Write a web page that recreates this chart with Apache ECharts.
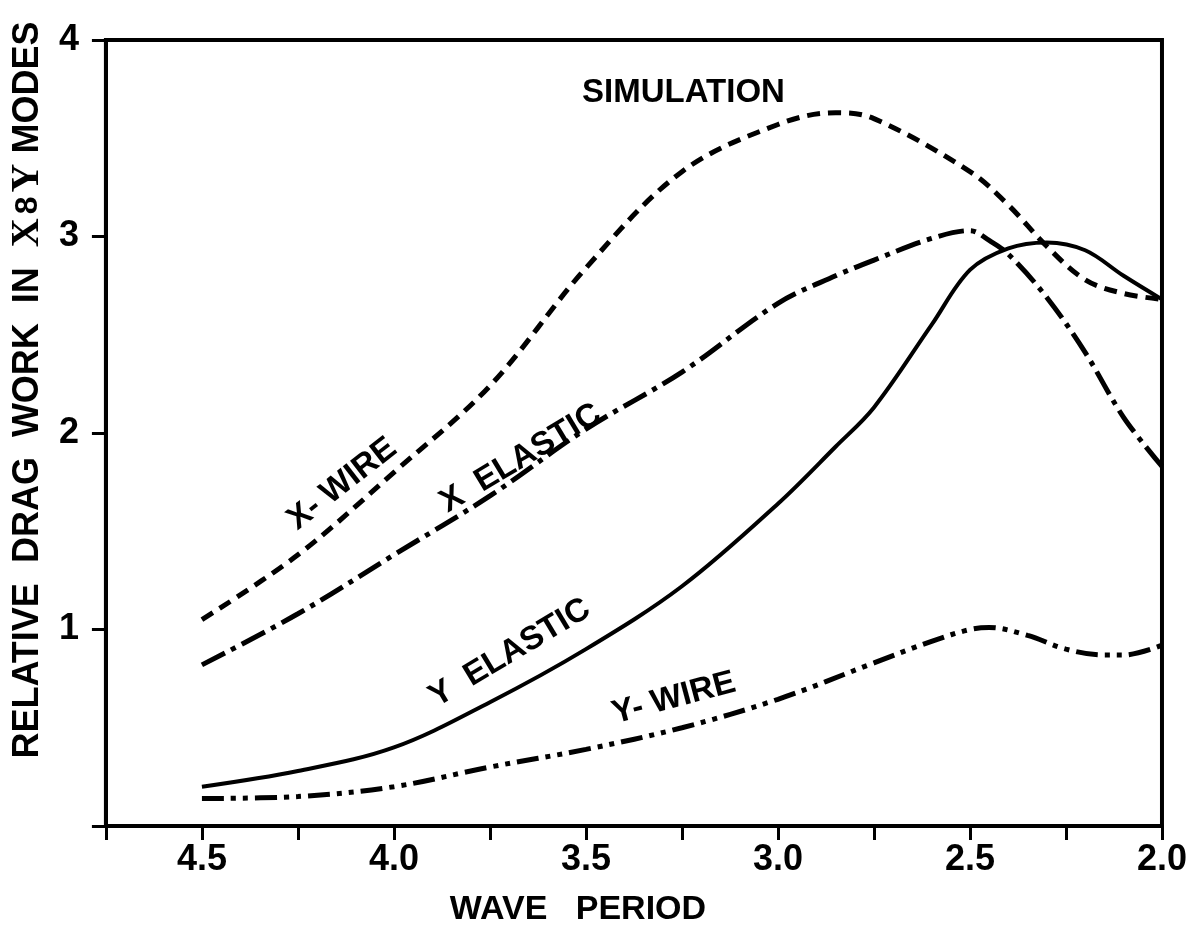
<!DOCTYPE html>
<html>
<head>
<meta charset="utf-8">
<title>Relative drag work</title>
<script src="https://cdn.jsdelivr.net/npm/echarts@6/dist/echarts.min.js"></script>
<style>
    html,body{margin:0;padding:0;background:#fff;}
    #main{width:1190px;height:932px;}
</style>
</head>
<body>
<div id="main"></div>
<script>
'use strict';

// wave period (x) and relative drag work (y)
var xWirePeriod=[4.5,4.25,4.0,3.75,3.5,3.25,3.0,2.85,2.75,2.5,2.4,2.3,2.2,2.1,2.0];
var xWireValue=[1.05,1.38,1.80,2.24,2.84,3.33,3.57,3.63,3.60,3.33,3.16,2.95,2.78,2.71,2.68];

var xElasticPeriod=[4.5,4.25,4.0,3.75,3.5,3.25,3.0,2.85,2.75,2.6,2.5,2.45,2.4,2.3,2.2,2.1,2.0];
var xElasticValue=[0.82,1.08,1.38,1.68,2.02,2.31,2.66,2.80,2.88,2.99,3.03,2.98,2.91,2.69,2.41,2.08,1.83];

var yElasticPeriod=[4.5,4.25,4.0,3.75,3.5,3.25,3.0,2.85,2.75,2.6,2.5,2.4,2.3,2.2,2.1,2.0];
var yElasticValue=[0.20,0.28,0.40,0.63,0.90,1.22,1.64,1.93,2.13,2.55,2.83,2.94,2.97,2.93,2.80,2.68];

var yWirePeriod=[4.5,4.25,4.0,3.75,3.5,3.25,3.0,2.75,2.6,2.5,2.45,2.35,2.25,2.15,2.1,2.0];
var yWireValue=[0.14,0.15,0.20,0.30,0.39,0.50,0.645,0.83,0.94,1.00,1.01,0.97,0.90,0.87,0.87,0.92];

// text written on the plot: [text, period, value, angle in degrees]
var curveLabels=[
    ['SIMULATION',3.246,3.73,0],
    ['X- WIRE',4.135,1.74,38],
    ['X  ELASTIC',3.67,1.87,31],
    ['Y  ELASTIC',3.698,0.88,31],
    ['Y- WIRE',3.271,0.65,15]
];

var FONT='Liberation Sans';
var INK='#000';

function zip(xs,ys){
    return xs.map(function(x,i){return [x,ys[i]];});
}

function curve(name,xs,ys,dash,width){
    return {
        name:name,
        type:'line',
        data:zip(xs,ys),
        smooth:0.35,
        showSymbol:false,
        silent:true,
        lineStyle:{color:INK,width:width,type:dash,cap:'butt'}
    };
}

var chart=echarts.init(document.getElementById('main'),null,{renderer:'canvas'});

chart.setOption({
    backgroundColor:'#fff',
    animation:false,
    grid:{left:105,top:40,right:8,bottom:105,show:true,borderColor:INK,borderWidth:4,backgroundColor:'transparent'},
    xAxis:{
        type:'value',
        inverse:true,
        min:2.0,
        max:4.75,
        interval:0.25,
        name:'WAVE   PERIOD',
        nameLocation:'middle',
        nameGap:67,
        nameTextStyle:{fontFamily:FONT,fontSize:34,fontWeight:'bold',color:INK,padding:[0,112,0,0]},
        axisLine:{lineStyle:{color:INK,width:4}},
        axisTick:{length:14,inside:false,lineStyle:{color:INK,width:3}},
        axisLabel:{
            margin:16,
            interval:0,
            fontFamily:FONT,
            fontSize:36,
            fontWeight:'bold',
            color:INK,
            formatter:function(v){
                return Math.abs(v*2-Math.round(v*2))<1e-6 ? v.toFixed(1) : '';
            }
        },
        splitLine:{show:false}
    },
    yAxis:{
        type:'value',
        min:0,
        max:4,
        interval:1,
        name:'RELATIVE  DRAG  WORK  IN  {s|X}{a|8}{s|Y} MODES',
        nameLocation:'middle',
        nameGap:45,
        nameRotate:90,
        nameTextStyle:{
            fontFamily:FONT,fontSize:36,fontWeight:'bold',color:INK,padding:[0,0,0,86],
            rich:{
                s:{fontFamily:'Liberation Serif',fontSize:40,fontWeight:'bold',color:INK},
                a:{fontFamily:FONT,fontSize:32,fontWeight:'bold',color:INK,padding:[0,4,0,4]}
            }
        },
        axisLine:{lineStyle:{color:INK,width:4}},
        axisTick:{length:14,lineStyle:{color:INK,width:3}},
        axisLabel:{
            margin:27,
            fontFamily:FONT,
            fontSize:36,
            fontWeight:'bold',
            color:INK,
            formatter:function(v){return v===0 ? '' : String(v);}
        },
        splitLine:{show:false}
    },
    series:[
        curve('X-WIRE',xWirePeriod,xWireValue,[13,8],5),
        curve('X ELASTIC',xElasticPeriod,xElasticValue,[26,7,5,7],5),
        curve('Y ELASTIC',yElasticPeriod,yElasticValue,'solid',4),
        curve('Y-WIRE',yWirePeriod,yWireValue,[22,7,5,7,5,7],5)
    ]
});

/**
 * place the curve names in data space once the grid is laid out
 */
chart.setOption({
    graphic:curveLabels.map(function(l){
        var p=chart.convertToPixel({gridIndex:0},[l[1],l[2]]);
        return {
            type:'text',
            x:p[0],
            y:p[1],
            rotation:l[3]*Math.PI/180,
            silent:true,
            style:{
                text:l[0],
                fontFamily:FONT,
                fontSize:33,
                fontWeight:'bold',
                fill:INK,
                align:'center',
                verticalAlign:'middle'
            }
        };
    })
});

window.addEventListener('resize',function(){chart.resize();});
</script>
</body>
</html>
